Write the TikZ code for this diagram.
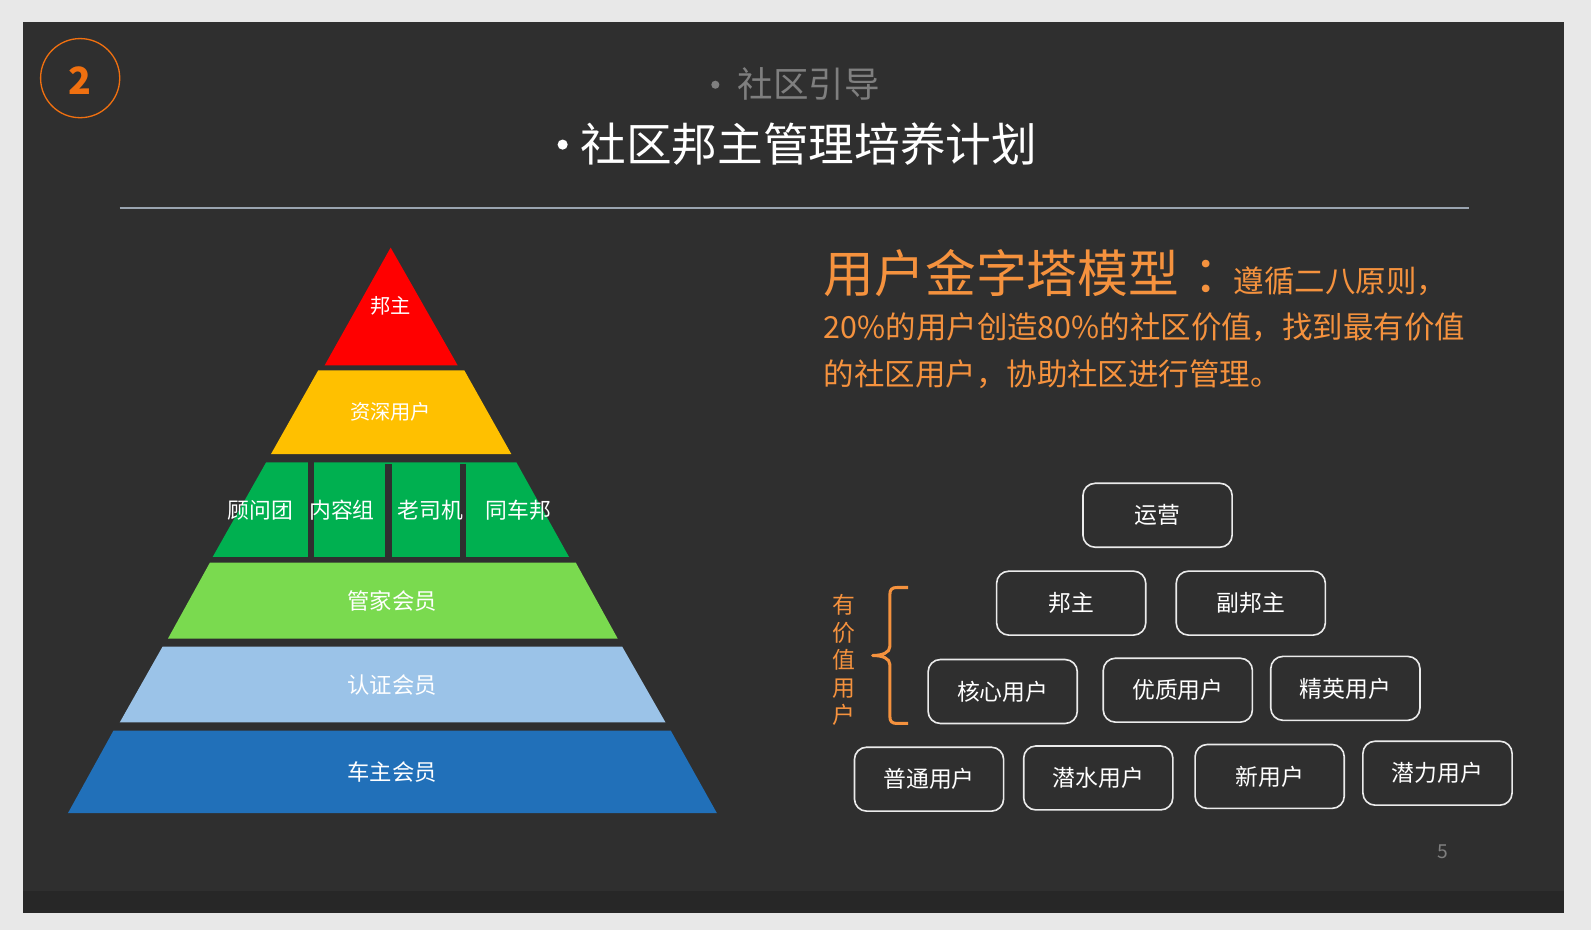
\documentclass[tikz,border=0pt]{standalone}
\usepackage{fontspec}
\setmainfont{Noto Sans CJK SC}
\definecolor{pagebg}{HTML}{E8E8E8}
\definecolor{slidebg}{HTML}{2F2F2F}
\definecolor{bandbg}{HTML}{272727}
\definecolor{ringor}{HTML}{F07010}
\definecolor{txtor}{HTML}{F5923E}
\definecolor{subgray}{HTML}{7F7F7F}
\definecolor{rulec}{HTML}{9AA4B0}
\definecolor{lred}{HTML}{FF0000}
\definecolor{lyel}{HTML}{FFC000}
\definecolor{lgrn}{HTML}{00B050}
\definecolor{llgrn}{HTML}{7ADA4F}
\definecolor{lblu}{HTML}{9BC3E8}
\definecolor{ldblu}{HTML}{2170B9}
\definecolor{boxline}{HTML}{EBEBEB}
\newcommand{\fsz}[1]{\fontsize{#1}{#1}\selectfont}
\tikzset{
  lbl/.style={text=white},
  ubox/.style={draw=boxline, line width=1.6pt, rounded corners=12pt,
    minimum width=147pt, minimum height=63pt, text=white, font=\fsz{22.5}},
  ortxt/.style={text=txtor, anchor=base west},
}
\begin{document}
\begin{tikzpicture}[x=1pt,y=-1pt, every node/.style={inner sep=0pt,outer sep=0pt}]
\useasboundingbox (0,0) rectangle (1568,916.5);
\fill[pagebg] (0,0) rectangle (1568,916.5);
\fill[slidebg] (23,22) rectangle (1541,900);
\fill[bandbg] (23,878) rectangle (1541,900);

% number circle
\node[circle, draw=ringor, line width=1.3pt, minimum size=78pt] (ring) at (79,77) {};
\node[text=ringor, font=\fsz{37}\bfseries] (num) at (78.5,79) {2};

% titles
\fill[subgray] (705,83.5) circle (4);
\node[text=subgray, font=\fsz{35}] (sub) at (797,83) {社区引导};
\fill[white] (554.5,142.5) circle (5);
\node[text=white, font=\fsz{45}] (title) at (797,142.4) {社区邦主管理培养计划};
\draw[rulec, line width=1.2pt] (118,205) -- (1448,205);

% pyramid
\fill[lred] (385,244) -- (451,360) -- (320,360) -- cycle;
\fill[lyel] (313.6,365) -- (457.6,365) -- (504,447.6) -- (267,447.6) -- cycle;
\fill[lgrn] (262.3,455.6) -- (508.9,455.6) -- (560.8,548.9) -- (209.6,548.9) -- cycle;
\fill[slidebg] (303.7,455) rectangle (309.3,549.5);
\fill[slidebg] (379.8,457) rectangle (386.2,549.5);
\fill[slidebg] (453.4,457) rectangle (459,549.5);
\fill[llgrn] (206.9,554.4) -- (567.4,554.4) -- (608.8,629.4) -- (165.5,629.4) -- cycle;
\fill[lblu] (160.2,637.3) -- (613.2,637.3) -- (655.9,712) -- (118,712) -- cycle;
\fill[ldblu] (111.8,720.1) -- (661.1,720.1) -- (706.5,801.3) -- (67,801.3) -- cycle;

\node[lbl, font=\fsz{20}] (p1) at (385,301.5) {邦主};
\node[lbl, font=\fsz{20}] (p2) at (385,406) {资深用户};
\node[lbl, font=\fsz{21.5}] (g1) at (256.4,503) {顾问团};
\node[lbl, font=\fsz{21.5}] (g2) at (337.1,503) {内容组};
\node[lbl, font=\fsz{21.5}] (g3) at (424.3,503) {老司机};
\node[lbl, font=\fsz{21.5}] (g4) at (510.8,503) {同车邦};
\node[lbl, font=\fsz{22}] (p4) at (386.5,592.6) {管家会员};
\node[lbl, font=\fsz{22}] (p5) at (386.5,675.4) {认证会员};
\node[lbl, font=\fsz{22}] (p6) at (386.5,760.9) {车主会员};

% orange paragraph
\node[ortxt, font=\fsz{50}] (head) at (812,288) {用户金字塔模型\hspace{14pt}：};
\node[ortxt, font=\fsz{30}] (l1) at ([xshift=-10pt]head.base east) {遵循二八原则，};
\node[ortxt, font=\fsz{30}] (l2) at (812,333.5) {20\%的用户创造80\%的社区价值，找到最有价值};
\node[ortxt, font=\fsz{30}] (l3) at (812,379.5) {的社区用户，协助社区进行管理。};

% boxes
\node[ubox] (yy) at (1140.8,507.8) {运营};
\node[ubox] (bz) at (1055.7,594.4) {邦主};
\node[ubox] (fbz) at (1232.7,594.4) {副邦主};
\node[ubox] (hx) at (988.2,681.5) {核心用户};
\node[ubox] (yz) at (1160.8,680.2) {优质用户};
\node[ubox] (jy) at (1325.9,678.4) {精英用户};
\node[ubox] (pt) at (915.6,767.9) {普通用户};
\node[ubox] (qs) at (1082.4,766.7) {潜水用户};
\node[ubox] (xu) at (1251.3,765.2) {新用户};
\node[ubox] (ql) at (1416.7,762) {潜力用户};

% brace and vertical label
\draw[txtor, line width=3pt, line join=round]
  (895,579) -- (884,579) .. controls (879,579) and (877,581) .. (877,586)
  -- (877,637) .. controls (877,643) and (870,646) .. (860,646)
  .. controls (870,646) and (877,649) .. (877,655)
  -- (877,706) .. controls (877,711) and (879,713) .. (884,713) -- (895,713);
\node[text=txtor, font=\fontsize{22.5}{27.1}\selectfont, align=center] (yjz) at (831.8,650.8) {有\\价\\值\\用\\户};

\node[text=subgray, font=\fsz{19}] (pg) at (1421.5,839) {5};
\end{tikzpicture}
\end{document}
